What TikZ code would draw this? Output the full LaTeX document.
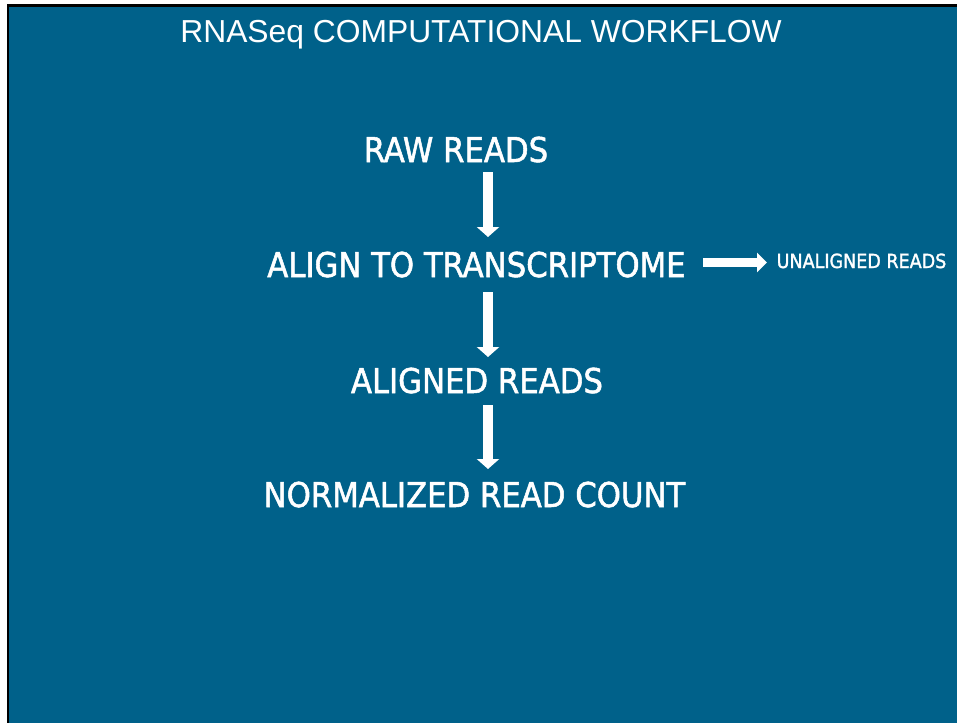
\documentclass[tikz,border=0pt]{standalone}
\usepackage{fontspec}
\setmainfont{Liberation Sans}
\newfontfamily\labelfont[FakeBold=1.5]{DejaVu Sans Condensed}
\usetikzlibrary{arrows.meta}
\definecolor{bgblue}{RGB}{0,97,138}
\tikzset{
  stepnode/.style={text=white, font=\labelfont\fontsize{34.2}{34.2}\selectfont, anchor=base, inner sep=0pt},
  smallnode/.style={text=white, font=\labelfont\fontsize{19.5}{19.5}\selectfont, anchor=base, inner sep=0pt},
  titlenode/.style={text=white, font=\fontsize{31.8}{31.8}\selectfont, anchor=base, inner sep=0pt},
  blockarrow/.style={draw=white, line width=10.5pt, -{Triangle[width=22pt,length=10pt]}},
  sidearrow/.style={draw=white, line width=9.5pt, -{Triangle[width=19pt,length=10pt]}}
}
\begin{document}
\begin{tikzpicture}[x=1pt,y=-1pt]
\useasboundingbox (0,0) rectangle (957,723);
\fill[white] (0,0) rectangle (957,723);
\fill[black] (7,4) rectangle (957,723);
\fill[bgblue] (9,6.5) rectangle (957,723);
\node[titlenode] (title) at (481,42) {RNASeq COMPUTATIONAL WORKFLOW};
\node[stepnode] (raw) at (456,162) {RAW READS};
\node[stepnode] (align) at (476.5,277) {ALIGN TO TRANSCRIPTOME};
\node[stepnode] (aligned) at (477,393) {ALIGNED READS};
\node[stepnode] (norm) at (474.5,507) {NORMALIZED READ COUNT};
\node[smallnode] (unal) at (861.5,268) {UNALIGNED READS};
\coordinate (a1s) at (488,172);
\coordinate (a1e) at (488,237);
\coordinate (a2s) at (488,292);
\coordinate (a2e) at (488,357);
\coordinate (a3s) at (488,405);
\coordinate (a3e) at (488,469);
\coordinate (a4s) at (703,262.5);
\coordinate (a4e) at (767,262.5);
\draw[blockarrow] (a1s) -- (a1e);
\draw[blockarrow] (a2s) -- (a2e);
\draw[blockarrow] (a3s) -- (a3e);
\draw[sidearrow] (a4s) -- (a4e);
\end{tikzpicture}
\end{document}
